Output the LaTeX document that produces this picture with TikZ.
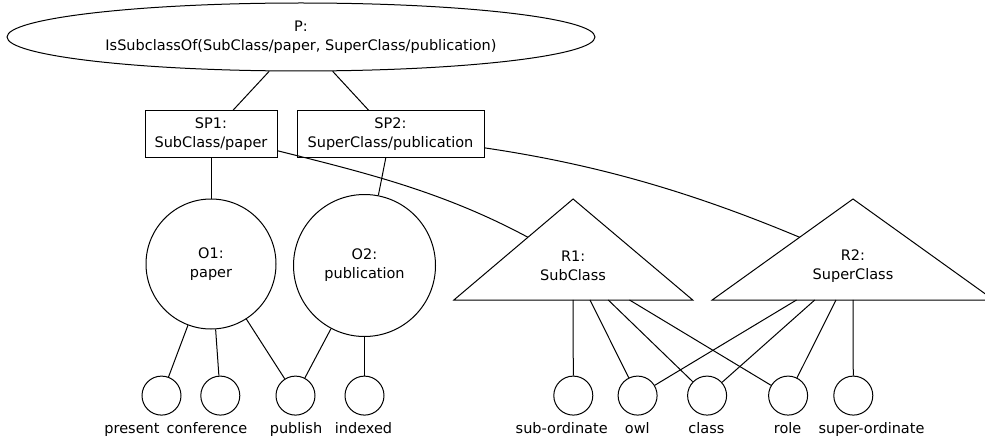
\documentclass[tikz,border=0pt]{standalone}
\usepackage{fontspec}
\setmainfont{DejaVu Sans}
\usetikzlibrary{shapes.geometric,calc}
\begin{document}
\begin{tikzpicture}[x=1pt,y=-1pt,line width=1pt,
  every node/.style={font=\fontsize{14.5}{19}\selectfont, inner sep=0pt, align=center},
  box/.style={draw, rectangle, minimum height=46pt},
  bigc/.style={draw, circle},
  leaf/.style={draw, circle, minimum size=39pt},
  lab/.style={anchor=base}]
\useasboundingbox (0,0) rectangle (985,441);
\clip (0,0) rectangle (985,441);
% top
\node[draw, ellipse, minimum width=588pt, minimum height=68pt] (P) at (301,37)
  {P:\\IsSubclassOf(SubClass/paper, SuperClass/publication)};
\node[box, minimum width=132pt] (SP1) at (211,134) {SP1:\\SubClass/paper};
\node[box, minimum width=187pt] (SP2) at (390.5,134) {SP2:\\SuperClass/publication};
\draw (P) -- (SP1);
\draw (P) -- (SP2);
% objects
\node[bigc, minimum size=130pt] (O1) at (211,264) {O1:\\paper};
\node[bigc, minimum size=142pt] (O2) at (364.5,265.5) {O2:\\publication};
\draw (SP1) -- (O1);
\draw (SP2) -- (O2);
% triangles
\coordinate (R1a) at (573.1,199);
\coordinate (R1l) at (453.9,300);
\coordinate (R1r) at (692.7,300);
\coordinate (R2a) at (853,199);
\coordinate (R2l) at (712.2,300);
\coordinate (R2r) at (993.8,300);
\draw (R1l) -- (R1a) -- (R1r) -- cycle;
\draw (R2l) -- (R2a) -- (R2r) -- cycle;
\node (R1) at (573.1,266) {R1:\\SubClass};
\node (R2) at (853,266) {R2:\\SuperClass};
\coordinate (R1in) at ($(R1l)!0.621!(R1a)$);
\coordinate (R2in) at ($(R2l)!0.621!(R2a)$);
\draw (SP1) .. controls (362,172) and (442,191) .. (R1in);
\draw (SP2) .. controls (594,164) and (689,191) .. (R2in);
% leaves
\node[leaf] (present) at (161.5,395.6) {};
\node[leaf] (conference) at (220.3,395.6) {};
\node[leaf] (publish) at (295.5,395.6) {};
\node[leaf] (indexed) at (364.5,395.6) {};
\node[leaf] (subo) at (573.3,395.6) {};
\node[leaf] (owl) at (637.6,395.6) {};
\node[leaf] (class) at (707.1,395.6) {};
\node[leaf] (role) at (788.1,395.6) {};
\node[leaf] (supo) at (853.3,395.6) {};
\node[lab] (Lpresent) at (132,433) {present};
\node[lab] (Lconference) at (207,433) {conference};
\node[lab] (Lpublish) at (296,433) {publish};
\node[lab] (Lindexed) at (363.5,433) {indexed};
\node[lab] (Lsubo) at (561.7,433) {sub-ordinate};
\node[lab] (Lowl) at (637.3,433) {owl};
\node[lab] (Lclass) at (706.4,433) {class};
\node[lab] (Lrole) at (787.6,433) {role};
\node[lab] (Lsupo) at (871.5,433) {super-ordinate};
% connectors
\draw (O1) -- (present);
\draw (O1) -- (conference);
\draw (O1) -- (publish);
\draw (O2) -- (publish);
\draw (O2) -- (indexed);
\foreach \l in {subo,owl,class,role} \draw ($(R1)!0.262!(\l)$) -- (\l);
\foreach \l in {owl,class,role,supo} \draw ($(R2)!0.262!(\l)$) -- (\l);
\end{tikzpicture}
\end{document}
